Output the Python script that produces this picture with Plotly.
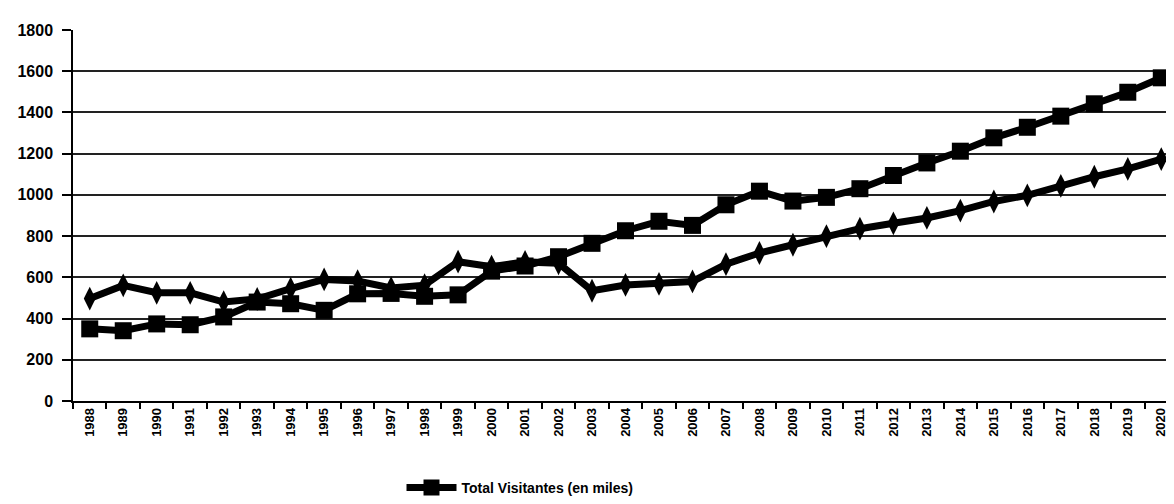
import plotly.graph_objects as go

years = [str(y) for y in range(1988, 2021)]
total_visitantes = [350, 341, 374, 370, 408, 480, 472, 440, 520, 522, 508, 515,
                    630, 655, 700, 765, 826, 872, 852, 952, 1018, 970, 988, 1030,
                    1094, 1155, 1212, 1277, 1328, 1382, 1442, 1498, 1568]
serie_2 = [497, 561, 525, 525, 480, 495, 545, 590, 582, 548, 562, 676, 652,
           675, 668, 535, 563, 568, 580, 664, 718, 758, 800, 836, 862, 888,
           924, 968, 998, 1044, 1088, 1126, 1174]
y_ticks = list(range(0, 1801, 200))

font_fam = "Liberation Sans, Arial, sans-serif"
narrow = "Liberation Sans Narrow, Liberation Sans, Arial, sans-serif"

fig = go.Figure()
fig.add_trace(go.Scatter(
    x=years, y=serie_2, mode="lines+markers", name="Serie 2", showlegend=False,
    line=dict(color="black", width=7),
    marker=dict(symbol="diamond-tall", size=17, color="black")))
fig.add_trace(go.Scatter(
    x=years, y=total_visitantes, mode="lines+markers",
    name="Total Visitantes (en miles)",
    line=dict(color="black", width=7),
    marker=dict(symbol="square", size=17, color="black")))

fig.update_layout(
    width=1166, height=496,
    margin=dict(l=65, r=0, t=22, b=99),
    paper_bgcolor="white", plot_bgcolor="white",
    font=dict(family=font_fam, color="black"),
    legend=dict(orientation="h", x=0.406, y=-0.235, xanchor="center", yanchor="middle",
                itemwidth=50,
                font=dict(size=14, family=narrow, weight="bold"),
                bgcolor="rgba(0,0,0,0)"),
)
fig.update_xaxes(
    type="category", range=[-0.5, 32.38], automargin=False,
    tickangle=-90, tickson="boundaries",
    ticks="outside", ticklen=6, tickcolor="black", tickwidth=1.5,
    showline=True, linecolor="black", linewidth=1.5, showgrid=False,
    tickfont=dict(size=13, family=narrow, weight="bold"),
)
fig.update_yaxes(
    range=[0, 1800], tickvals=y_ticks, automargin=False,
    ticks="outside", ticklen=9, ticklabelstandoff=6,
    tickcolor="black", tickwidth=1.5,
    showline=True, linecolor="black", linewidth=1.5,
    showgrid=True, gridcolor="#222222", gridwidth=1.5, zeroline=False,
    tickfont=dict(size=16, family=font_fam, weight="bold"),
)

fig.write_html("out.html")
